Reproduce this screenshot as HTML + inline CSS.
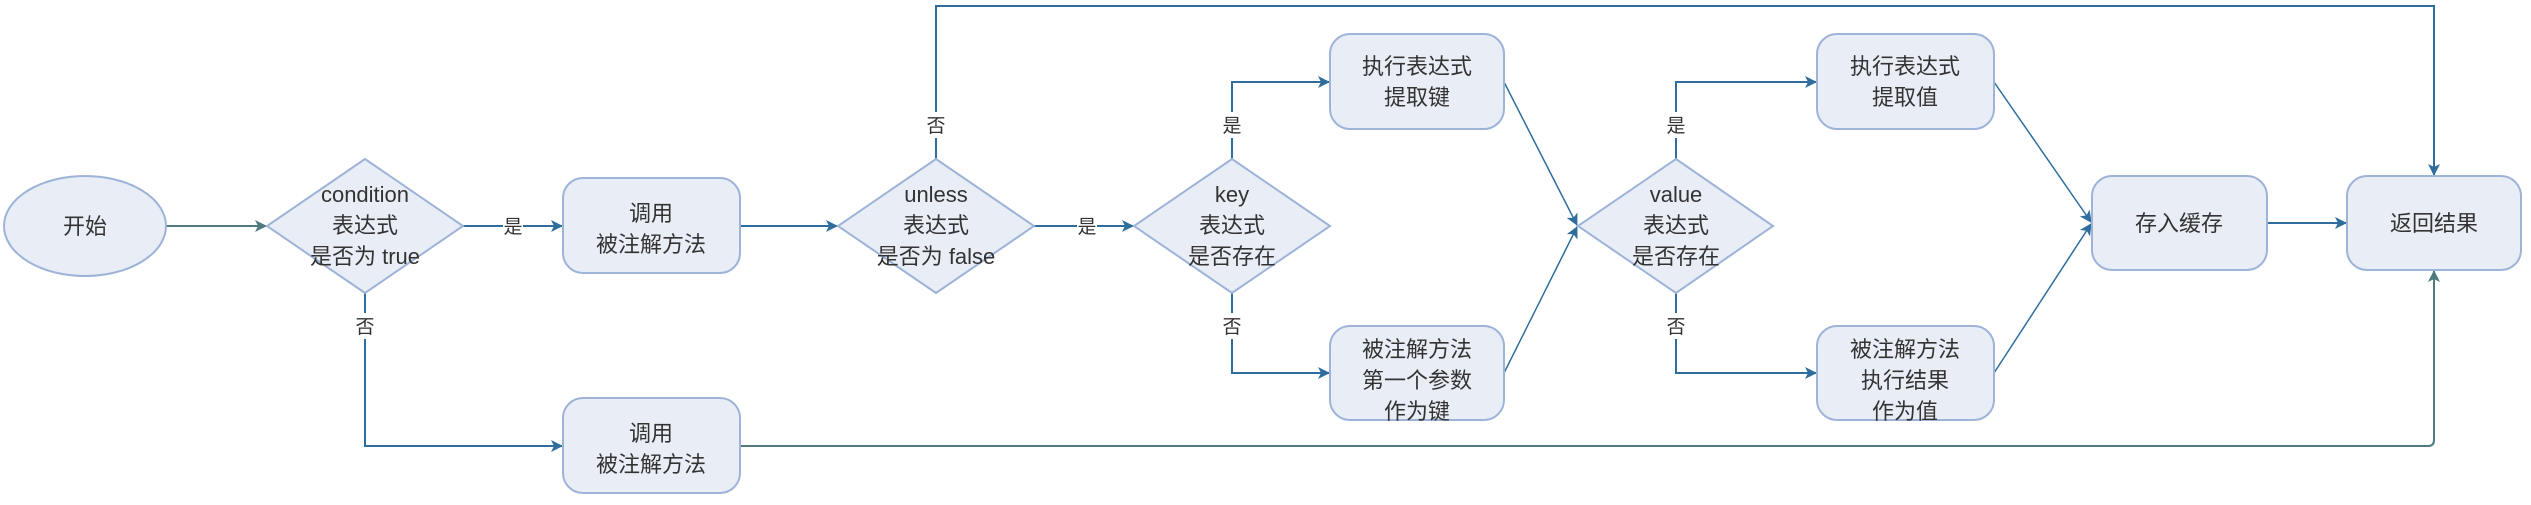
<!DOCTYPE html>
<html><head><meta charset="utf-8"><style>
html,body{margin:0;padding:0;background:#fff;}
svg text{font-family:"Liberation Sans","Noto Sans CJK SC",sans-serif;fill:#333;}
</style></head><body>
<svg width="2531" height="500" viewBox="0 0 2531 500" xmlns="http://www.w3.org/2000/svg">
<defs>
<marker id="a" markerWidth="12" markerHeight="12" refX="11" refY="6" orient="auto" markerUnits="userSpaceOnUse">
<path d="M0,0 L12,6 L0,12 L3,6 Z" fill="#2e6d9c"/></marker>
<marker id="g" markerWidth="12" markerHeight="12" refX="11" refY="6" orient="auto" markerUnits="userSpaceOnUse">
<path d="M0,0 L12,6 L0,12 L3,6 Z" fill="#4f7a7e"/></marker>
</defs>
<g fill="none" stroke-width="2">
<line x1="166" y1="226" x2="266" y2="226" stroke="#4f7a7e" marker-end="url(#g)"/>
<line x1="463" y1="226" x2="562" y2="226" stroke="#2e6d9c" marker-end="url(#a)"/>
<line x1="740" y1="226" x2="837" y2="226" stroke="#2e6d9c" marker-end="url(#a)"/>
<line x1="1034" y1="226" x2="1133" y2="226" stroke="#2e6d9c" marker-end="url(#a)"/>
<polyline points="936,159 936,6 2434,6 2434,175" stroke="#2e6d9c" marker-end="url(#a)"/>
<polyline points="365,293 365,446 562,446" stroke="#2e6d9c" marker-end="url(#a)"/>
<path d="M740,446 L2428,446 Q2434,446 2434,440 L2434,271" stroke="#4f7a7e" marker-end="url(#g)"/>
<polyline points="1232,159 1232,82 1329,82" stroke="#2e6d9c" marker-end="url(#a)"/>
<polyline points="1232,293 1232,373 1329,373" stroke="#2e6d9c" marker-end="url(#a)"/>
<polyline points="1676,159 1676,82 1816,82" stroke="#2e6d9c" marker-end="url(#a)"/>
<polyline points="1676,293 1676,373 1816,373" stroke="#2e6d9c" marker-end="url(#a)"/>
<line x1="1504" y1="82" x2="1577" y2="225" stroke="#2e6d9c" stroke-width="1.5" marker-end="url(#a)"/>
<line x1="1504" y1="373" x2="1577" y2="227" stroke="#2e6d9c" stroke-width="1.5" marker-end="url(#a)"/>
<line x1="1994" y1="82" x2="2091" y2="222" stroke="#2e6d9c" stroke-width="1.5" marker-end="url(#a)"/>
<line x1="1994" y1="373" x2="2091" y2="224" stroke="#2e6d9c" stroke-width="1.5" marker-end="url(#a)"/>
<line x1="2267" y1="223" x2="2346" y2="223" stroke="#2e6d9c" marker-end="url(#a)"/>
</g>
<g fill="#e9eef6" stroke="#9db3d8" stroke-width="2">
<ellipse cx="85" cy="226" rx="81" ry="50"/>
<polygon points="365,159 463,226 365,293 267,226"/>
<polygon points="936,159 1034,226 936,293 838,226"/>
<polygon points="1232,159 1330,226 1232,293 1134,226"/>
<polygon points="1676,159 1773,226 1676,293 1578,226"/>
<rect x="563" y="178" width="177" height="95" rx="20"/>
<rect x="563" y="398" width="177" height="95" rx="20"/>
<rect x="1330" y="34" width="174" height="95" rx="20"/>
<rect x="1330" y="326" width="174" height="94" rx="20"/>
<rect x="1817" y="34" width="177" height="95" rx="20"/>
<rect x="1817" y="326" width="177" height="94" rx="20"/>
<rect x="2092" y="176" width="175" height="94" rx="20"/>
<rect x="2347" y="176" width="174" height="94" rx="20"/>
</g>
<g font-size="22" text-anchor="middle">
<text x="85" y="234">开始</text>
<text x="365" y="202">condition</text><text x="365" y="233">表达式</text><text x="365" y="264">是否为 true</text>
<text x="651" y="221">调用</text><text x="651" y="252">被注解方法</text>
<text x="651" y="441">调用</text><text x="651" y="472">被注解方法</text>
<text x="936" y="202">unless</text><text x="936" y="233">表达式</text><text x="936" y="264">是否为 false</text>
<text x="1232" y="202">key</text><text x="1232" y="233">表达式</text><text x="1232" y="264">是否存在</text>
<text x="1676" y="202">value</text><text x="1676" y="233">表达式</text><text x="1676" y="264">是否存在</text>
<text x="1417" y="74">执行表达式</text><text x="1417" y="105">提取键</text>
<text x="1417" y="357">被注解方法</text><text x="1417" y="388">第一个参数</text><text x="1417" y="419">作为键</text>
<text x="1905" y="74">执行表达式</text><text x="1905" y="105">提取值</text>
<text x="1905" y="357">被注解方法</text><text x="1905" y="388">执行结果</text><text x="1905" y="419">作为值</text>
<text x="2179" y="231">存入缓存</text>
<text x="2434" y="231">返回结果</text>
</g>
<g font-size="19" text-anchor="middle">
<rect x="503" y="214" width="20" height="24" fill="#fff"/><text x="513" y="233">是</text>
<rect x="1077" y="214" width="20" height="24" fill="#fff"/><text x="1087" y="233">是</text>
<rect x="355" y="313" width="20" height="26" fill="#fff"/><text x="365" y="333">否</text>
<rect x="926" y="112" width="20" height="26" fill="#fff"/><text x="936" y="132">否</text>
<rect x="1222" y="112" width="20" height="26" fill="#fff"/><text x="1232" y="132">是</text>
<rect x="1222" y="313" width="20" height="26" fill="#fff"/><text x="1232" y="333">否</text>
<rect x="1666" y="112" width="20" height="26" fill="#fff"/><text x="1676" y="132">是</text>
<rect x="1666" y="313" width="20" height="26" fill="#fff"/><text x="1676" y="333">否</text>
</g>
</svg>
</body></html>
